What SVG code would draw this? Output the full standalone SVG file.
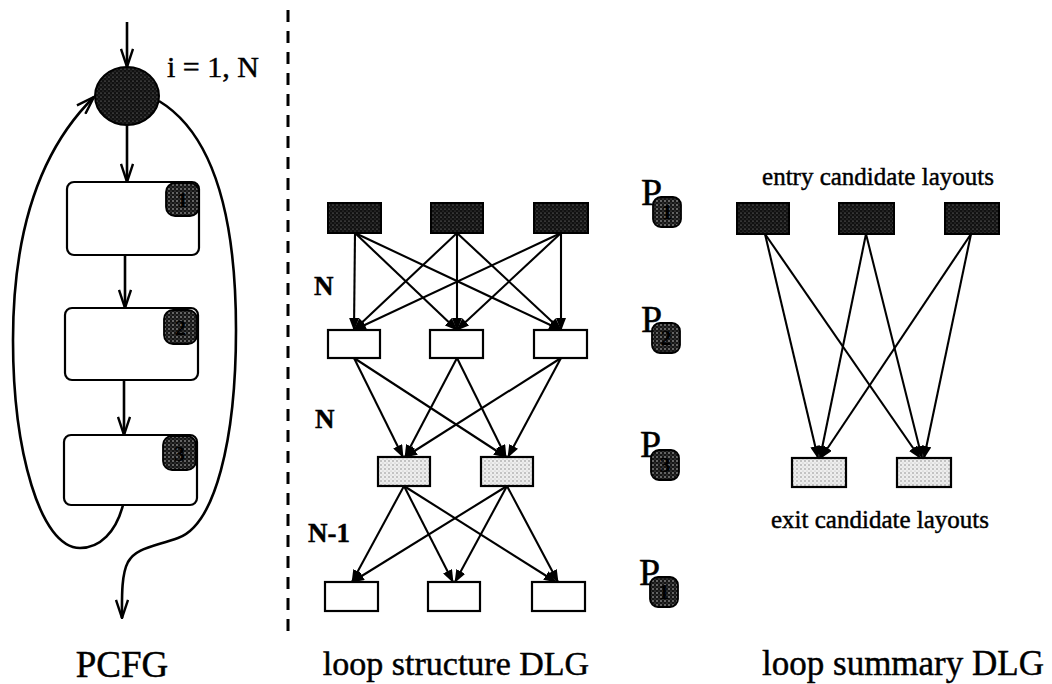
<svg xmlns="http://www.w3.org/2000/svg" width="1052" height="684" viewBox="0 0 1052 684">
  <style>
    .txt { font-family: "Liberation Serif", "Times New Roman", serif; fill: #000; stroke: #000; stroke-width: 0.45; }
    .flow { fill: none; stroke: #000; stroke-width: 2.6; }
    .edge { fill: none; stroke: #000; stroke-width: 2.1; }
    .blk { fill: #fff; stroke: #000; stroke-width: 2.2; }
    .lay-white { fill: #fff; stroke: #000; stroke-width: 2.2; }
    .lay-dark { fill: url(#darkDots); stroke: #000; stroke-width: 2; }
    .lay-light { fill: url(#lightDots); stroke: #000; stroke-width: 2.2; }
    .badge { fill: url(#badgeDots); stroke: #000; stroke-width: 1.8; }
    .badge-num { font-family: "Liberation Serif", serif; font-weight: bold; font-size: 22px; fill: #000; text-anchor: middle; }
  </style>
  <defs>
    <pattern id="darkDots" width="4" height="4" patternUnits="userSpaceOnUse">
      <rect width="4" height="4" fill="#111"/>
      <circle cx="1" cy="1" r="0.6" fill="#999"/>
      <circle cx="3" cy="3" r="0.5" fill="#666"/>
    </pattern>
    <pattern id="lightDots" width="4" height="4" patternUnits="userSpaceOnUse">
      <rect width="4" height="4" fill="#eee"/>
      <circle cx="1" cy="1" r="0.7" fill="#777"/>
      <circle cx="3" cy="3" r="0.5" fill="#aaa"/>
    </pattern>
    <pattern id="badgeDots" width="4" height="4" patternUnits="userSpaceOnUse">
      <rect width="4" height="4" fill="#151515"/>
      <circle cx="1" cy="1" r="0.75" fill="#d8d8d8"/>
      <circle cx="3" cy="3" r="0.5" fill="#888"/>
    </pattern>
    <marker id="openArrow" viewBox="0 0 20 14" refX="19" refY="7" markerWidth="20" markerHeight="14" markerUnits="userSpaceOnUse" orient="auto">
      <path d="M1,1 L19,7 L1,13" fill="none" stroke="#000" stroke-width="2.4"/>
    </marker>
    <marker id="solidArrow" viewBox="0 0 13 10" refX="12" refY="5" markerWidth="13" markerHeight="10" markerUnits="userSpaceOnUse" orient="auto">
      <path d="M0,0 L13,5 L0,10 z" fill="#000"/>
    </marker>
  </defs>

  <!-- divider between PCFG and DLG panels -->
  <line x1="288" y1="10" x2="288" y2="640" stroke="#000" stroke-width="3" stroke-dasharray="12,9"/>

  <!-- ===== PCFG ===== -->
  <g id="pcfg-connectors">
    <line class="flow" x1="127" y1="22" x2="127" y2="67" marker-end="url(#openArrow)"/>
    <line class="flow" x1="127" y1="125" x2="127" y2="182" marker-end="url(#openArrow)"/>
    <line class="flow" x1="125" y1="255" x2="125" y2="308" marker-end="url(#openArrow)"/>
    <line class="flow" x1="124" y1="380" x2="124" y2="435" marker-end="url(#openArrow)"/>
    <!-- back edge of the loop -->
    <path class="flow" d="M123,505 C116,532 100,548 80,548 C40,548 13,450 13,340 C13,230 40,150 94,97" marker-end="url(#openArrow)"/>
    <!-- loop exit -->
    <path class="flow" d="M159,101 C215,135 236,220 236,330 C236,440 215,525 178,538 C152,547 136,548 128,562 C121,575 122,600 122,618" marker-end="url(#openArrow)"/>
  </g>

  <g id="loop-header">
    <ellipse cx="127" cy="96" rx="32" ry="29" fill="url(#darkDots)" stroke="#000" stroke-width="2"/>
    <text class="txt" x="167" y="77" font-size="30">i = 1, N</text>
  </g>

  <g id="block-1">
    <rect class="blk" x="67" y="182" width="132" height="73" rx="7"/>
    <rect class="badge" x="166" y="183" width="33" height="33" rx="9"/>
    <text class="badge-num" x="182.5" y="207">1</text>
  </g>
  <g id="block-2">
    <rect class="blk" x="65" y="308" width="133" height="72" rx="7"/>
    <rect class="badge" x="164" y="310" width="33" height="34" rx="9"/>
    <text class="badge-num" x="180.5" y="335">2</text>
  </g>
  <g id="block-3">
    <rect class="blk" x="64" y="435" width="133" height="70" rx="7"/>
    <rect class="badge" x="163" y="436" width="33" height="34" rx="9"/>
    <text class="badge-num" x="179.5" y="461">3</text>
  </g>

  <text class="txt" x="122" y="677" font-size="37" text-anchor="middle">PCFG</text>

  <!-- ===== loop structure DLG ===== -->
  <g id="structure-edges">
    <!-- phase 1 to phase 2 -->
    <line class="edge" x1="355" y1="233" x2="354" y2="330" marker-end="url(#solidArrow)"/>
    <line class="edge" x1="355" y1="233" x2="457" y2="330" marker-end="url(#solidArrow)"/>
    <line class="edge" x1="355" y1="233" x2="561" y2="330" marker-end="url(#solidArrow)"/>
    <line class="edge" x1="457" y1="233" x2="354" y2="330" marker-end="url(#solidArrow)"/>
    <line class="edge" x1="457" y1="233" x2="457" y2="330" marker-end="url(#solidArrow)"/>
    <line class="edge" x1="457" y1="233" x2="561" y2="330" marker-end="url(#solidArrow)"/>
    <line class="edge" x1="561" y1="233" x2="354" y2="330" marker-end="url(#solidArrow)"/>
    <line class="edge" x1="561" y1="233" x2="457" y2="330" marker-end="url(#solidArrow)"/>
    <line class="edge" x1="561" y1="233" x2="561" y2="330" marker-end="url(#solidArrow)"/>
    <!-- phase 2 to phase 3 -->
    <line class="edge" x1="354" y1="358" x2="403" y2="457" marker-end="url(#solidArrow)"/>
    <line class="edge" x1="354" y1="358" x2="506" y2="457" marker-end="url(#solidArrow)"/>
    <line class="edge" x1="457" y1="358" x2="405" y2="457" marker-end="url(#solidArrow)"/>
    <line class="edge" x1="457" y1="358" x2="506" y2="457" marker-end="url(#solidArrow)"/>
    <line class="edge" x1="561" y1="358" x2="405" y2="457" marker-end="url(#solidArrow)"/>
    <line class="edge" x1="561" y1="358" x2="508" y2="457" marker-end="url(#solidArrow)"/>
    <!-- phase 3 to phase 1 -->
    <line class="edge" x1="404" y1="486" x2="352" y2="582" marker-end="url(#solidArrow)"/>
    <line class="edge" x1="404" y1="486" x2="453" y2="582" marker-end="url(#solidArrow)"/>
    <line class="edge" x1="404" y1="486" x2="556" y2="582" marker-end="url(#solidArrow)"/>
    <line class="edge" x1="507" y1="486" x2="352" y2="582" marker-end="url(#solidArrow)"/>
    <line class="edge" x1="507" y1="486" x2="455" y2="582" marker-end="url(#solidArrow)"/>
    <line class="edge" x1="507" y1="486" x2="558" y2="582" marker-end="url(#solidArrow)"/>
  </g>

  <g id="structure-phase1">
    <rect class="lay-dark" x="328" y="203" width="53" height="30"/>
    <rect class="lay-dark" x="431" y="203" width="52" height="30"/>
    <rect class="lay-dark" x="534" y="203" width="54" height="30"/>
  </g>
  <g id="structure-phase2">
    <rect class="lay-white" x="328" y="330" width="52" height="28"/>
    <rect class="lay-white" x="430" y="330" width="53" height="28"/>
    <rect class="lay-white" x="534" y="330" width="53" height="28"/>
  </g>
  <g id="structure-phase3">
    <rect class="lay-light" x="378" y="457" width="52" height="29"/>
    <rect class="lay-light" x="481" y="457" width="52" height="29"/>
  </g>
  <g id="structure-phase1-next">
    <rect class="lay-white" x="325" y="582" width="53" height="29"/>
    <rect class="lay-white" x="428" y="582" width="52" height="29"/>
    <rect class="lay-white" x="532" y="582" width="53" height="29"/>
  </g>

  <g id="trip-counts" class="txt" font-size="27" font-weight="bold">
    <text x="314" y="295">N</text>
    <text x="315" y="428">N</text>
    <text x="308" y="542">N-1</text>
  </g>

  <g id="phase-labels">
    <text class="txt" x="641" y="205" font-size="38">P</text>
    <rect class="badge" x="653" y="197" width="28" height="30" rx="8"/>
    <text class="badge-num" x="667" y="219" font-size="19">1</text>

    <text class="txt" x="641" y="332" font-size="38">P</text>
    <rect class="badge" x="652" y="323" width="28" height="30" rx="8"/>
    <text class="badge-num" x="666" y="345" font-size="19">2</text>

    <text class="txt" x="640" y="457" font-size="38">P</text>
    <rect class="badge" x="651" y="450" width="28" height="30" rx="8"/>
    <text class="badge-num" x="665" y="472" font-size="19">3</text>

    <text class="txt" x="639" y="585" font-size="38">P</text>
    <rect class="badge" x="650" y="577" width="28" height="30" rx="8"/>
    <text class="badge-num" x="664" y="599" font-size="19">1</text>
  </g>

  <text class="txt" x="456" y="675" font-size="34" text-anchor="middle">loop structure DLG</text>

  <!-- ===== loop summary DLG ===== -->
  <text class="txt" x="878" y="185" font-size="25" text-anchor="middle">entry candidate layouts</text>

  <g id="summary-edges">
    <line class="edge" x1="765" y1="234" x2="818" y2="458" marker-end="url(#solidArrow)"/>
    <line class="edge" x1="765" y1="234" x2="920" y2="458" marker-end="url(#solidArrow)"/>
    <line class="edge" x1="866" y1="234" x2="820" y2="458" marker-end="url(#solidArrow)"/>
    <line class="edge" x1="866" y1="234" x2="922" y2="458" marker-end="url(#solidArrow)"/>
    <line class="edge" x1="971" y1="234" x2="821" y2="458" marker-end="url(#solidArrow)"/>
    <line class="edge" x1="971" y1="234" x2="924" y2="458" marker-end="url(#solidArrow)"/>
  </g>

  <g id="summary-entry">
    <rect class="lay-dark" x="737" y="203" width="52" height="31"/>
    <rect class="lay-dark" x="839" y="203" width="55" height="31"/>
    <rect class="lay-dark" x="945" y="203" width="54" height="31"/>
  </g>
  <g id="summary-exit">
    <rect class="lay-light" x="792" y="458" width="54" height="29"/>
    <rect class="lay-light" x="897" y="458" width="54" height="29"/>
  </g>

  <text class="txt" x="880" y="528" font-size="25" text-anchor="middle">exit candidate layouts</text>

  <text class="txt" x="903" y="675" font-size="35" text-anchor="middle">loop summary DLG</text>
</svg>
